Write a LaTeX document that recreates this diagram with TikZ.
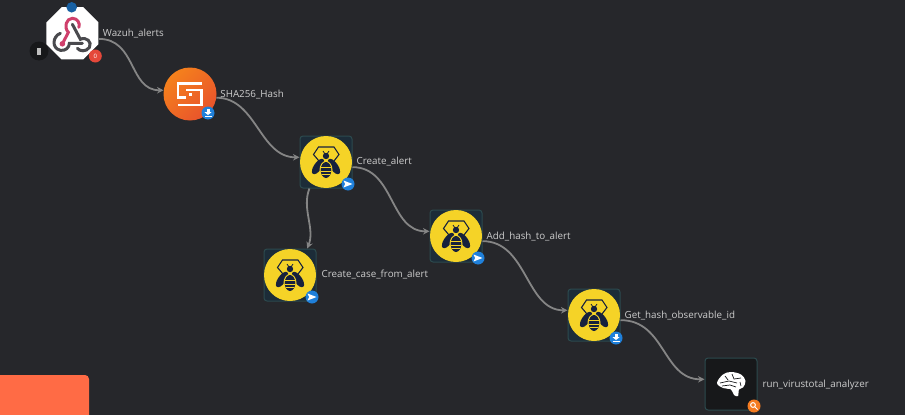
\documentclass[tikz,border=0pt]{standalone}
\usepackage{fontspec}
\setmainfont{Open Sans}
\usetikzlibrary{positioning,shapes.geometric,arrows.meta}
\definecolor{canvas}{HTML}{26272B}
\definecolor{cornerorange}{HTML}{FF6B45}
\definecolor{beeyellow}{HTML}{F5D327}
\definecolor{beenavy}{HTML}{17213D}
\definecolor{boxfill}{HTML}{1C2C38}
\definecolor{boxline}{HTML}{2C4A4E}
\definecolor{flowgrey}{HTML}{858585}
\definecolor{labelgrey}{HTML}{CDCDCD}
\definecolor{badgeblue}{HTML}{1F80DA}
\definecolor{hookpink}{HTML}{CF3F6B}
\definecolor{hookgrey}{HTML}{4A4A4E}
\definecolor{shastart}{HTML}{F5811C}
\definecolor{shaend}{HTML}{E8532C}
\definecolor{countred}{HTML}{E5483A}
\definecolor{darkdisc}{HTML}{17181A}
\definecolor{loupe}{HTML}{F47B20}
\tikzset{
    pics/bee/.style={code={
        \draw[beenavy, line width=1.1pt] (-7,-1) -- (-12.5,-7.5) -- (-7.5,-15) -- (8,-15) -- (13,-7.5) -- (8,-1);
        \fill[beenavy] (0,-6) circle (3.2);
        \draw[beenavy, line width=.8pt] (-1,-8) -- (-3,-11) (1,-8) -- (3,-11);
        \fill[beenavy, rotate around={-35:(-8,4.5)}] (-8,4.5) ellipse (4 and 9);
        \fill[beenavy, rotate around={35:(8,4.5)}] (8,4.5) ellipse (4 and 9);
        \fill[beeyellow] (0,8) ellipse (6.5 and 9);
        \fill[beenavy] (0,8) ellipse (5.3 and 8);
        \draw[beeyellow, line width=1pt] (-5,5.5) -- (5,5.5) (-5,9) -- (5,9) (-4,12.5) -- (4,12.5);
    }},
    pics/sendmark/.style={code={
        \fill[white] (-4.5,-3.5) -- (4.5,0) -- (-4.5,3.5) -- (-2.8,0) -- cycle;
    }},
    pics/loadmark/.style={code={
        \fill[white] (-1.5,-4) rectangle (1.5,-.5);
        \fill[white] (-3.5,-.8) -- (3.5,-.8) -- (0,2) -- cycle;
        \fill[white] (-3.5,2.7) rectangle (3.5,3.9);
    }},
    flow/.style={draw=flowgrey, line width=1.8pt, -{Stealth[length=6.5pt,width=6.5pt]}},
    lbl/.style={text=labelgrey, font=\fontsize{9.8}{11}\selectfont, inner sep=0pt},
    beebox/.style={rectangle, rounded corners=3pt, draw=boxline, line width=1pt, fill=boxfill, minimum size=52pt, inner sep=0pt},
    beedisc/.style={circle, fill=beeyellow, minimum size=52pt, inner sep=0pt},
    badge/.style={circle, fill=badgeblue, minimum size=13pt, inner sep=0pt},
}
\begin{document}
\begin{tikzpicture}[x=1pt, y=-1pt]
    \fill[canvas] (0,0) rectangle (905,415);
    \useasboundingbox (0,0) rectangle (905,415);
    \fill[cornerorange, rounded corners=4pt] (-10,375) rectangle (89,425);

    % trigger
    \node[regular polygon, regular polygon sides=8, fill=white, minimum size=56.5pt, inner sep=0pt] (wazuh) at (72.4,33.3) {};
    \begin{scope}[shift={(wazuh.center)}, line width=3pt, line cap=round]
        \draw[hookgrey] (0,-9) -- (8,6) .. controls (14,3) and (20,9) .. (17,14) .. controls (14,19) and (7,18) .. (5,15);
        \draw[hookgrey] (-12,0) .. controls (-20,3) and (-21,15) .. (-12,17) .. controls (-7,18) and (-3,14) .. (-3,10) -- (10,10);
        \draw[hookpink] (-10,10.5) -- (-4,-1) .. controls (-9,-6) and (-6,-15) .. (0,-15) .. controls (5,-15) and (8,-10) .. (6.5,-6);
        \fill[hookpink] (-10,10.5) circle (2.8);
    \end{scope}
    \node[circle, fill=badgeblue!75!black, minimum size=10.5pt, inner sep=0pt] (wazuhtop) at (71.7,7.3) {};
    \node[circle, fill=darkdisc, minimum size=19pt, inner sep=0pt] (trash) at (39,51) {};
    \fill[white!75!black] (36.8,47.5) rectangle (41.2,55);
    \node[circle, fill=countred, minimum size=13pt, inner sep=0pt, text=white, font=\fontsize{6}{6}\selectfont] (wazuhcount) at (95.3,56) {0};

    % hash step
    \node[circle, left color=shastart, right color=shaend, shading angle=45, minimum size=53pt, inner sep=0pt] (sha) at (190,94) {};
    \begin{scope}[shift={(sha.center)}, line width=2.8pt, white]
        \draw (12,-10.5) -- (-12,-10.5) -- (-12,3.5) -- (-4,3.5);
        \draw (-4,-4) -- (11.5,-4) -- (11.5,11) -- (-12.5,11);
        \fill (-1.5,-1) rectangle (1.5,2);
    \end{scope}
    \node[badge] (shabadge) at (208,113) {};
    \pic at (shabadge) {loadmark};

    % hive steps
    \node[beebox] (alert) at (326,162) {};
    \node[beedisc] at (alert) {};
    \pic at (alert) {bee};
    \node[badge] (alertbadge) at (348,184) {};
    \pic at (alertbadge) {sendmark};

    \node[beebox] (case) at (290,275) {};
    \node[beedisc] at (case) {};
    \pic at (case) {bee};
    \node[badge] (casebadge) at (312,297) {};
    \pic at (casebadge) {sendmark};

    \node[beebox] (addhash) at (456,236) {};
    \node[beedisc] at (addhash) {};
    \pic at (addhash) {bee};
    \node[badge] (addhashbadge) at (478,258) {};
    \pic at (addhashbadge) {sendmark};

    \node[beebox] (gethash) at (594,315) {};
    \node[beedisc] at (gethash) {};
    \pic at (gethash) {bee};
    \node[badge] (gethashbadge) at (616,338) {};
    \pic at (gethashbadge) {loadmark};

    % analyzer
    \node[rectangle, rounded corners=3pt, draw=boxline, line width=1pt, fill=darkdisc, minimum size=52pt, inner sep=0pt] (brain) at (731,384) {};
    \begin{scope}[shift={(brain.center)}]
        \fill[white, smooth cycle, tension=.6] plot coordinates {(-14,-1) (-8,-9.5) (0,-12) (10,-9.5) (14.5,-3) (12,3.5) (8,5.5) (7,12) (3,11) (0,5.5) (-8,4)};
        \draw[darkdisc, line width=.7pt] (-11,-1) -- (-2,-3) -- (6,-1) (-6,-8) -- (-3,-4) (1,-10) -- (3,-5) -- (10,-6) (-9,2) -- (-1,1) -- (5,3) (9,-2) -- (10,2);
    \end{scope}
    \node[circle, fill=loupe, minimum size=13pt, inner sep=0pt] (brainbadge) at (754,406) {};
    \draw[white, line width=1pt] (753,405) circle (2.4) (754.8,406.8) -- (757.5,409.5);

    % labels
    \node[lbl, right=4pt of wazuh.east] (wazuhtext) {Wazuh\_alerts};
    \node[lbl, right=3.5pt of sha.east, yshift=-1pt] (shatext) {SHA256\_Hash};
    \node[lbl, right=4pt of alert.east, yshift=.5pt] (alerttext) {Create\_alert};
    \node[lbl, right=5pt of case.east] (casetext) {Create\_case\_from\_alert};
    \node[lbl, right=4pt of addhash.east, yshift=-1pt] (addhashtext) {Add\_hash\_to\_alert};
    \node[lbl, right=4pt of gethash.east, yshift=-1pt] (gethashtext) {Get\_hash\_observable\_id};
    \node[lbl, right=5pt of brain.east, yshift=-1pt] (braintext) {run\_virustotal\_analyzer};

    % connectors
    \draw[flow] (wazuh.-12) .. controls +(38,0) and +(-35,0) .. (sha.172);
    \draw[flow] (sha.-8) .. controls +(40,0) and +(-40,0) .. (alert.170);
    \draw[flow] (alert.-11) .. controls +(42,0) and +(-40,0) .. (addhash.170);
    \draw[flow] (addhash.-11) .. controls +(45,0) and +(-42,0) .. (gethash.170);
    \draw[flow] (gethash.-11) .. controls +(45,0) and +(-42,0) .. (brain.170);
    \draw[flow] (alert.-122) .. controls +(-8,20) and +(8,-20) .. (case.57);
\end{tikzpicture}
\end{document}
